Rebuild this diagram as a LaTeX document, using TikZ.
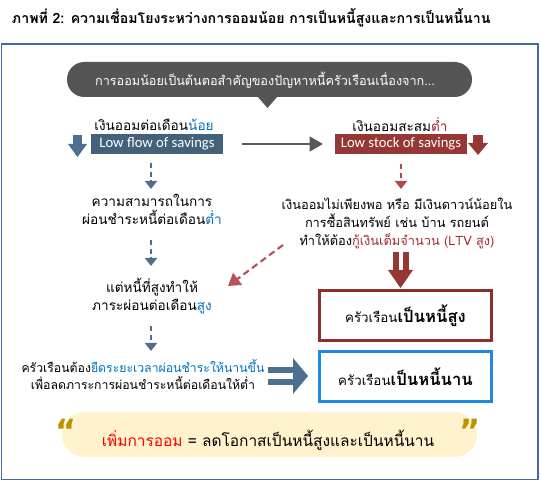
\documentclass[tikz,border=0pt]{standalone}
\usepackage{fontspec}
\setmainfont[Script=Thai]{Loma}
\newfontfamily\latinfont{Carlito}
\newfontfamily\quotefont{DejaVu Sans}
\usetikzlibrary{arrows.meta}
\definecolor{steelb}{HTML}{44617B}
\definecolor{arrowb}{HTML}{4F6F8E}
\definecolor{boxred}{HTML}{953735}
\definecolor{txtred}{HTML}{A5282F}
\definecolor{txtblue}{HTML}{0070C0}
\definecolor{brdblue}{HTML}{1E88E5}
\definecolor{brdred}{HTML}{8B2F2F}
\definecolor{arrgray}{HTML}{595959}
\definecolor{bubgray}{HTML}{555555}
\definecolor{quotec}{HTML}{BF9000}
\definecolor{creamc}{HTML}{FFF2CC}
\definecolor{framec}{HTML}{4468A8}
\definecolor{brightred}{HTML}{FF0000}
\begin{document}
\begin{tikzpicture}[x=0.75pt,y=-0.75pt,
  every node/.style={inner sep=0pt, outer sep=0pt},
  body/.style={align=center, font=\fontsize{10.2}{13.5}\selectfont},
  engbox/.style={text=white, font=\latinfont\fontsize{11}{13}\selectfont, minimum width=99pt, minimum height=15.5pt},
  dasharrow/.style={line width=1.5pt, dash pattern=on 4pt off 2.5pt, -{Triangle[width=9pt,length=6pt]}},
  outbox/.style={line width=1.8pt, minimum width=129pt, minimum height=37.5pt, font=\fontsize{10}{13}\selectfont},
  quotemark/.style={text=quotec, font=\quotefont\bfseries\fontsize{24}{24}\selectfont, anchor=north}
]
\useasboundingbox (0,0) rectangle (540,481);
% title
\node[anchor=west, font=\bfseries\fontsize{10.6}{13}\selectfont] (title) at (12,18) {ภาพที่ 2: ความเชื่อมโยงระหว่างการออมน้อย การเป็นหนี้สูงและการเป็นหนี้นาน};
% frame
\draw[framec, line width=1.2pt] (1.5,44) rectangle (538,479.5);
% bubble
\fill[bubgray, rounded corners=13pt] (67,62) rectangle (472,97);
\fill[bubgray] (257,96) -- (267.5,108) -- (278,96) -- cycle;
\node[text=white, font=\fontsize{9.5}{12}\selectfont] (bub) at (265,80) {การออมน้อยเป็นต้นตอสำคัญของปัญหาหนี้ครัวเรือนเนื่องจาก...};
% left column
\node[body] (lflabel) at (154,125) {เงินออมต่อเดือน\textcolor{txtblue}{น้อย}};
\node[engbox, fill=steelb] (lf) at (157,144) {Low flow of savings};
\fill[arrowb] (73,135) rectangle (82,145);
\fill[arrowb] (68,144) -- (87,144) -- (77.5,157) -- cycle;
\node[body] (abil) at (152,209.5) {ความสามารถในการ\\ผ่อนชำระหนี้ต่อเดือน\textcolor{txtblue}{ต่ำ}};
\node[body] (burden) at (152,296) {แต่หนี้ที่สูงทำให้\\ภาระผ่อนต่อเดือน\textcolor{txtblue}{สูง}};
\node[align=center, font=\fontsize{9.2}{13.2}\selectfont] (extend) at (143,374.5) {ครัวเรือนต้อง\textcolor{txtblue}{ยืดระยะเวลาผ่อนชำระให้นานขึ้น}\\เพื่อลดภาระการผ่อนชำระหนี้ต่อเดือนให้ต่ำ};
\coordinate (d1s) at (151,163); \coordinate (d1e) at (151,189);
\coordinate (d2s) at (151,240); \coordinate (d2e) at (151,266);
\coordinate (d3s) at (151,326); \coordinate (d3e) at (151,351);
\draw[arrowb, dasharrow] (d1s) -- (d1e);
\draw[arrowb, dasharrow] (d2s) -- (d2e);
\draw[arrowb, dasharrow] (d3s) -- (d3e);
% right column
\node[body] (lslabel) at (400,125) {เงินออมสะสม\textcolor{txtred}{ต่ำ}};
\node[engbox, fill=boxred] (ls) at (401,144) {Low stock of savings};
\fill[boxred] (473,135) rectangle (483,144);
\fill[boxred] (468,143) -- (488,143) -- (478,155) -- cycle;
\coordinate (r1s) at (401,164); \coordinate (r1e) at (401,189);
\draw[txtred!85!white, dasharrow] (r1s) -- (r1e);
\node[align=center, font=\fontsize{9.6}{13.5}\selectfont] (insuf) at (397,223.5) {เงินออมไม่เพียงพอ หรือ มีเงินดาวน์น้อยใน\\การซื้อสินทรัพย์ เช่น บ้าน รถยนต์\\ทำให้ต้อง\textcolor{txtred}{กู้เงินเต็มจำนวน (LTV สูง)}};
% horizontal gray arrow
\coordinate (hs) at (242,144); \coordinate (he) at (323,144);
\draw[arrgray, line width=1.8pt, -{Triangle[width=11pt,length=10pt]}] (hs) -- (he);
% diagonal red dashed
\coordinate (dgs) at (283,245); \coordinate (dge) at (228,286);
\draw[txtred!80!white, line width=1.6pt, dash pattern=on 5pt off 3pt, -{Triangle[width=11pt,length=9pt]}] (dgs) -- (dge);
% red double arrow down
\fill[boxred] (393,252) rectangle (399,271);
\fill[boxred] (402.5,252) rectangle (408.5,271);
\fill[boxred] (388,270) -- (413,270) -- (400.5,288) -- cycle;
% outcome boxes
\node[outbox, draw=brdred] (high) at (405.5,315.5) {ครัวเรือน{\bfseries\fontsize{12.5}{15}\selectfont เป็นหนี้สูง}};
\node[outbox, draw=brdblue] (long) at (405.5,376.5) {ครัวเรือน{\bfseries\fontsize{12.5}{15}\selectfont เป็นหนี้นาน}};
% blue double arrow right
\fill[arrowb] (268,367) rectangle (294,373.5);
\fill[arrowb] (268,379) rectangle (294,385.5);
\fill[arrowb] (293,358) -- (308,376) -- (293,394) -- cycle;
% bottom pill
\fill[creamc, rounded corners=17pt] (62,412) rectangle (477,457);
\node[quotemark] (lq) at (66,419) {“};
\node[quotemark] (rq) at (470,419) {”};
\node[font=\fontsize{11.6}{14}\selectfont] (msg) at (268,440) {\textcolor{brightred}{เพิ่มการออม} = ลดโอกาสเป็นหนี้สูงและเป็นหนี้นาน};
\end{tikzpicture}
\end{document}
